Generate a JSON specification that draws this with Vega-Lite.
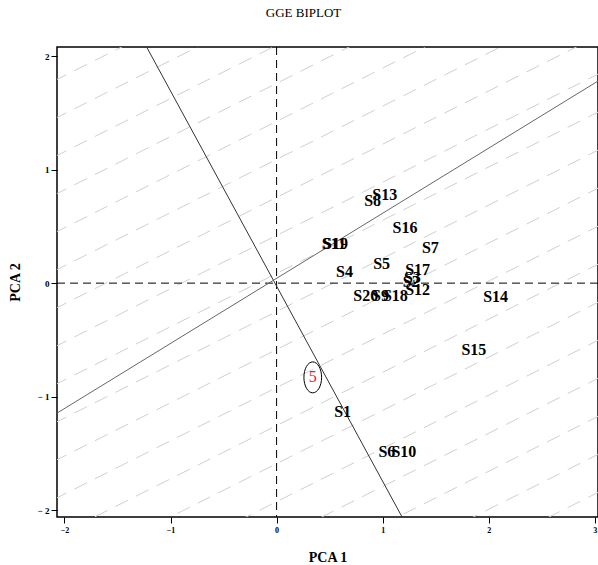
{
  "$schema": "https://vega.github.io/schema/vega-lite/v6.json",
  "width": 541,
  "height": 470,
  "autosize": {"type": "none"},
  "padding": {"left": 57, "top": 47, "right": 0, "bottom": 48},
  "background": "white",
  "title": {"text": "GGE BIPLOT", "font": "Liberation Serif", "fontSize": 13, "fontWeight": "normal", "offset": 27, "dx": -24, "anchor": "middle", "color": "black"},
  "config": {
    "view": {"stroke": "black", "strokeWidth": 1.5},
    "axis": {"grid": false, "domain": false, "tickColor": "black", "tickSize": 6, "labelColor": "black", "labelFont": "Liberation Serif", "labelFontWeight": "bold", "titleFont": "Liberation Serif", "titleFontWeight": "bold", "titleFontSize": 14, "titleColor": "black"}
  },
  "datasets": {
    "pattern": [
      {"x1": -2.1, "y1": -4.585, "x2": 3.1, "y2": -2.146},
      {"x1": -2.1, "y1": -4.25, "x2": 3.1, "y2": -1.811},
      {"x1": -2.1, "y1": -3.915, "x2": 3.1, "y2": -1.476},
      {"x1": -2.1, "y1": -3.58, "x2": 3.1, "y2": -1.141},
      {"x1": -2.1, "y1": -3.245, "x2": 3.1, "y2": -0.806},
      {"x1": -2.1, "y1": -2.91, "x2": 3.1, "y2": -0.471},
      {"x1": -2.1, "y1": -2.575, "x2": 3.1, "y2": -0.136},
      {"x1": -2.1, "y1": -2.24, "x2": 3.1, "y2": 0.199},
      {"x1": -2.1, "y1": -1.905, "x2": 3.1, "y2": 0.534},
      {"x1": -2.1, "y1": -1.57, "x2": 3.1, "y2": 0.869},
      {"x1": -2.1, "y1": -1.235, "x2": 3.1, "y2": 1.204},
      {"x1": -2.1, "y1": -0.9, "x2": 3.1, "y2": 1.539},
      {"x1": -2.1, "y1": -0.565, "x2": 3.1, "y2": 1.874},
      {"x1": -2.1, "y1": -0.23, "x2": 3.1, "y2": 2.209},
      {"x1": -2.1, "y1": 0.105, "x2": 3.1, "y2": 2.544},
      {"x1": -2.1, "y1": 0.44, "x2": 3.1, "y2": 2.879},
      {"x1": -2.1, "y1": 0.775, "x2": 3.1, "y2": 3.214},
      {"x1": -2.1, "y1": 1.11, "x2": 3.1, "y2": 3.549},
      {"x1": -2.1, "y1": 1.445, "x2": 3.1, "y2": 3.884},
      {"x1": -2.1, "y1": 1.78, "x2": 3.1, "y2": 4.219},
      {"x1": -2.1, "y1": 2.115, "x2": 3.1, "y2": 4.554}
    ],
    "origin": [{"v": 0}],
    "vectors": [
      {"line": "a", "x1": -1.225, "y1": 2.08, "x2": 1.183, "y2": -2.06},
      {"line": "b", "x1": -2.07, "y1": -1.145, "x2": 3.03, "y2": 1.78}
    ],
    "genotypes": [
      {"name": "S1", "pc1": 0.623, "pc2": -1.137},
      {"name": "S4", "pc1": 0.64, "pc2": 0.10},
      {"name": "S5", "pc1": 0.99, "pc2": 0.17},
      {"name": "S6", "pc1": 1.04, "pc2": -1.49},
      {"name": "S10", "pc1": 1.20, "pc2": -1.49},
      {"name": "S7", "pc1": 1.45, "pc2": 0.31},
      {"name": "S8", "pc1": 0.905, "pc2": 0.72},
      {"name": "S13", "pc1": 1.02, "pc2": 0.78},
      {"name": "S16", "pc1": 1.21, "pc2": 0.49},
      {"name": "S11", "pc1": 0.54, "pc2": 0.346},
      {"name": "S19", "pc1": 0.555, "pc2": 0.346},
      {"name": "S14", "pc1": 2.065, "pc2": -0.123},
      {"name": "S15", "pc1": 1.86, "pc2": -0.59},
      {"name": "S17", "pc1": 1.33, "pc2": 0.115},
      {"name": "S3", "pc1": 1.28, "pc2": 0.044},
      {"name": "S2", "pc1": 1.27, "pc2": 0.01},
      {"name": "S12", "pc1": 1.33, "pc2": -0.06},
      {"name": "S20", "pc1": 0.84, "pc2": -0.11},
      {"name": "S9", "pc1": 0.98, "pc2": -0.11},
      {"name": "S18", "pc1": 1.12, "pc2": -0.11}
    ],
    "environments": [
      {"name": "5", "pc1": 0.341, "pc2": -0.83}
    ]
  },
  "layer": [
    {
      "data": {"name": "pattern"},
      "mark": {"type": "rule", "color": "#cfcfcf", "strokeWidth": 1, "strokeDash": [14, 9], "clip": true},
      "encoding": {
        "x": {"field": "x1", "type": "quantitative", "scale": {"domain": [-2.07, 3.03], "nice": false, "zero": false}, "axis": {"title": "PCA 1", "values": [-2, -1, 0, 1, 2, 3], "format": "d", "labelFontSize": 8, "labelPadding": 3, "titleY": 44, "titleBaseline": "alphabetic"}},
        "y": {"field": "y1", "type": "quantitative", "scale": {"domain": [-2.06, 2.08], "nice": false, "zero": false}, "axis": {"title": "PCA 2", "values": [-2, -1, 0, 1, 2], "format": "d", "labelFontSize": 9, "labelPadding": 2, "labelExpr": "datum.value < 0 ? '\u2212 ' + abs(datum.value) : datum.label", "titleX": -42, "titleY": 235, "titleAngle": -90, "titleBaseline": "middle", "titleAlign": "center"}},
        "x2": {"field": "x2"},
        "y2": {"field": "y2"}
      }
    },
    {
      "data": {"name": "origin"},
      "mark": {"type": "rule", "color": "black", "strokeWidth": 1, "strokeDash": [8, 5]},
      "encoding": {
        "x": {"field": "v", "type": "quantitative", "title": "PCA 1"}
      }
    },
    {
      "data": {"name": "origin"},
      "mark": {"type": "rule", "color": "black", "strokeWidth": 1, "strokeDash": [8, 5]},
      "encoding": {
        "y": {"field": "v", "type": "quantitative", "title": "PCA 2"}
      }
    },
    {
      "data": {"name": "vectors"},
      "mark": {"type": "rule", "strokeWidth": 1, "clip": true},
      "encoding": {
        "x": {"field": "x1", "type": "quantitative", "title": "PCA 1"},
        "y": {"field": "y1", "type": "quantitative", "title": "PCA 2"},
        "x2": {"field": "x2"},
        "y2": {"field": "y2"},
        "color": {"field": "line", "type": "nominal", "scale": {"domain": ["a", "b"], "range": ["#333333", "#666666"]}, "legend": null}
      }
    },
    {
      "data": {"name": "genotypes"},
      "mark": {"type": "text", "font": "Liberation Serif", "fontSize": 16, "fontWeight": "bold", "color": "black", "align": "center", "baseline": "middle"},
      "encoding": {
        "x": {"field": "pc1", "type": "quantitative", "title": "PCA 1"},
        "y": {"field": "pc2", "type": "quantitative", "title": "PCA 2"},
        "text": {"field": "name"}
      }
    },
    {
      "data": {"name": "environments"},
      "mark": {"type": "point", "shape": "M0,-1.75A1,1.75 0 1,1 0,1.75A1,1.75 0 1,1 0,-1.75Z", "size": 313, "filled": false, "stroke": "black", "strokeWidth": 1, "opacity": 1},
      "encoding": {
        "x": {"field": "pc1", "type": "quantitative", "title": "PCA 1"},
        "y": {"field": "pc2", "type": "quantitative", "title": "PCA 2"}
      }
    },
    {
      "data": {"name": "environments"},
      "mark": {"type": "text", "font": "Liberation Serif", "fontSize": 16, "color": "#e8202a", "align": "center", "baseline": "middle"},
      "encoding": {
        "x": {"field": "pc1", "type": "quantitative", "title": "PCA 1"},
        "y": {"field": "pc2", "type": "quantitative", "title": "PCA 2"},
        "text": {"field": "name"}
      }
    }
  ]
}
